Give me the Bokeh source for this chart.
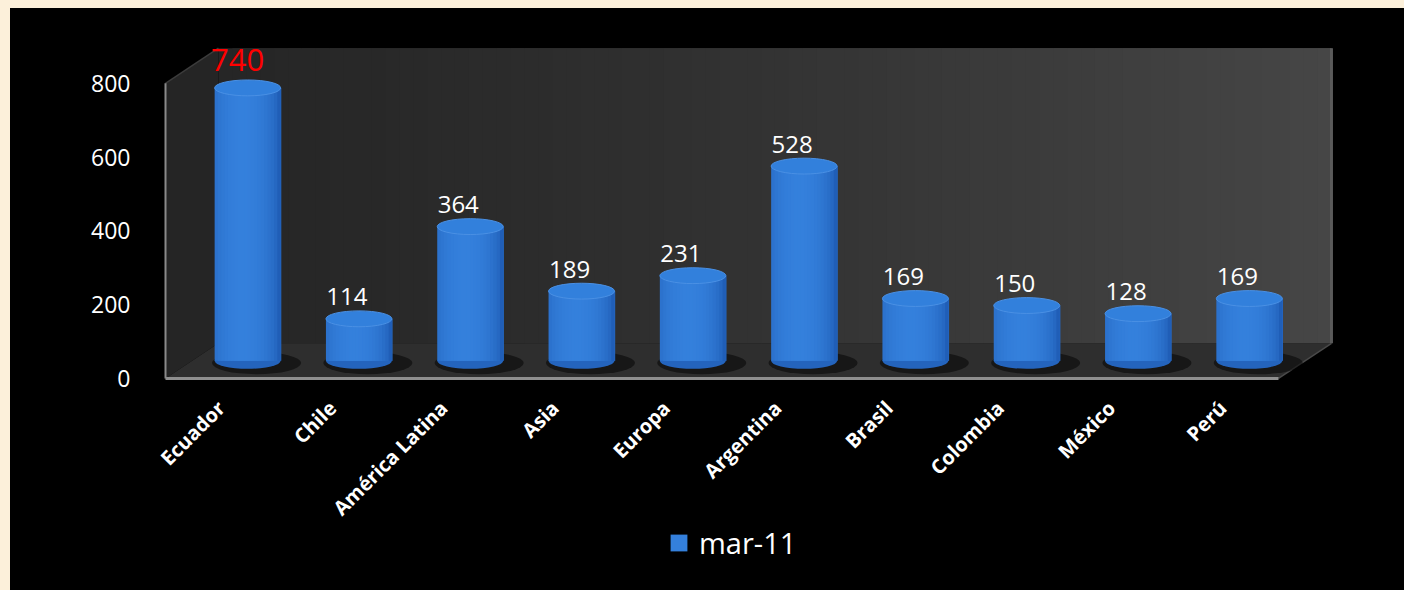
import numpy as np
from bokeh.plotting import figure
from bokeh.models import ColumnDataSource, FixedTicker, Legend, LegendItem, Range1d
from bokeh.embed import file_html
from bokeh.resources import INLINE
from bokeh.core.properties import value

# ---------------- data ----------------
categories = ["Ecuador", "Chile", "América Latina", "Asia", "Europa",
              "Argentina", "Brasil", "Colombia", "México", "Perú"]
values = [740, 114, 364, 189, 231, 528, 169, 150, 128, 169]
y_ticks = [0, 200, 400, 600, 800]
series_name = "mar-11"
highlight = "Ecuador"

# ---------------- geometry / style ----------------
N = len(categories)
DX, DY = 0.476, 95.0          # full depth of the 3-D box (data units)
HX, HY = DX / 2, DY / 2       # depth of the bar plane
BW = 0.593                    # cylinder diameter
EH = 43.0                     # ellipse height (data units)
YMAX = 800
X0 = -0.2246

W, H = 1394, 582
p = figure(width=W, height=H, output_backend="svg", toolbar_location=None,
           x_range=Range1d(X0, X0 + 1200 / 111.3), y_range=Range1d(-575, 916),
           min_border_left=130, min_border_right=64, min_border_top=32,
           min_border_bottom=0,
           background_fill_color="black", border_fill_color="black",
           outline_line_color=None)
p.outline_line_alpha = 0
p.margin = (8, 0, 0, 10)
p.styles = {"background-color": "black"}
p.grid.visible = False

def hexcol(c):
    return "#%02x%02x%02x" % tuple(int(round(v)) for v in c)

# back wall gradient
nW = 80
edges = np.linspace(DX, N + DX, nW + 1)
step = edges[1] - edges[0]
c0, c1 = np.array([38, 38, 38]), np.array([70, 70, 70])
wall_cols = [hexcol(c0 + (c1 - c0) * (k / (nW - 1)) ** 1.3) for k in range(nW)]
rights = [min(e + 2 * step, N + DX) for e in edges[1:]]
p.quad(left=list(edges[:-1]), right=rights, bottom=DY, top=YMAX + DY,
       fill_color=wall_cols, line_color=None)
p.line([N + DX, N + DX], [DY, YMAX + DY], line_color="#5a5a5a", line_width=3)

# left side wall
p.patch([0, DX, DX, 0], [0, DY, YMAX + DY, YMAX], fill_color="#252525", line_color=None)
p.line([0, DX], [YMAX, YMAX + DY], line_color="#3c3c3c", line_width=1.5)

# floor
p.patch([0, N, N + DX, DX], [0, 0, DY, DY], fill_color="#2e2e2e", line_color=None)
p.line([N, N + DX], [0, DY], line_color="#4a4a4a", line_width=1.5)
p.line([0, N], [0, 0], line_color="#8f8f8f", line_width=3)
p.line([0, 0], [0, YMAX], line_color="#8a8a8a", line_width=2)

# cylinders
cx = [i + 0.5 + HX for i in range(N)]
tops = [HY + v for v in values]

# floor shadows
p.ellipse(x=[c + 0.08 for c in cx], y=[HY - 6] * N, width=BW * 1.35, height=EH * 1.4,
          fill_color="black", fill_alpha=0.5, line_color=None)

dark = np.array([24, 80, 168])
light = np.array([52, 128, 220])
p.ellipse(x=cx, y=[HY] * N, width=BW, height=EH, fill_color="#2464bd", line_color=None)
nS = 20
sw = BW / nS
legend_r = None
for k in range(nS):
    t = -1 + (k + 0.5) * 2 / nS
    s = max(0.0, 1 - ((t + 0.15) / 1.15) ** 2) ** 0.5
    col = hexcol(dark + (light - dark) * s)
    w = sw * (2.2 if k < nS - 1 else 1.0)
    xo = -BW / 2 + k * sw + w / 2
    r = p.vbar(x=[c + xo for c in cx], width=w,
               bottom=HY, top=tops, fill_color=col, line_color=None)
    if k == nS // 2 - 2:
        legend_r = r
p.ellipse(x=cx, y=tops, width=BW, height=EH, fill_color="#3280dc",
          line_color="#4a90e4", line_width=1)

# data labels
normal_idx = [i for i, c in enumerate(categories) if c != highlight]
hi_idx = [i for i, c in enumerate(categories) if c == highlight]
src_n = ColumnDataSource(dict(x=[cx[i] for i in normal_idx], y=[tops[i] for i in normal_idx],
                              text=[str(values[i]) for i in normal_idx]))
src_h = ColumnDataSource(dict(x=[cx[i] for i in hi_idx], y=[tops[i] for i in hi_idx],
                              text=[str(values[i]) for i in hi_idx]))
p.text(x="x", y="y", text="text", source=src_n, text_color="white",
       text_font=value("Open Sans"), text_font_size="24px", text_align="center",
       text_baseline="middle", x_offset=-12, y_offset=-22)
p.text(x="x", y="y", text="text", source=src_h, text_color="#ff0000",
       text_font=value("Open Sans"), text_font_size="31px", text_align="center",
       text_baseline="middle", x_offset=-10, y_offset=-28)

# axes
p.yaxis.ticker = FixedTicker(ticks=y_ticks)
p.yaxis.axis_line_color = None
p.yaxis.major_tick_line_color = None
p.yaxis.minor_tick_line_color = None
p.yaxis.major_label_text_color = "white"
p.yaxis.major_label_text_font = "Open Sans"
p.yaxis.major_label_text_font_size = "23px"
p.yaxis.major_label_standoff = 4

xt = [i + 0.5 for i in range(N)]
p.xaxis.fixed_location = 0
p.xaxis.ticker = FixedTicker(ticks=xt)
p.xaxis.major_label_overrides = {t: c for t, c in zip(xt, categories)}
p.xaxis.axis_line_color = None
p.xaxis.major_tick_line_color = None
p.xaxis.minor_tick_line_color = None
p.xaxis.major_label_orientation = np.pi / 4
p.xaxis.major_label_text_color = "white"
p.xaxis.major_label_text_font = "Open Sans"
p.xaxis.major_label_text_font_style = "bold"
p.xaxis.major_label_text_font_size = "20px"
p.xaxis.major_label_standoff = 20

legend = Legend(items=[LegendItem(label=series_name, renderers=[legend_r])],
                location=(528, 28), orientation="horizontal",
                background_fill_alpha=0, border_line_color=None,
                label_text_color="white", label_text_font="Open Sans",
                label_text_font_size="29px", glyph_width=21, glyph_height=21,
                label_standoff=10)
p.add_layout(legend, "center")

html = file_html(p, INLINE)
html = html.replace("</head>", "<style>body{background-color:#FCF0DA;}</style></head>", 1)
open("out.html", "w").write(html)
